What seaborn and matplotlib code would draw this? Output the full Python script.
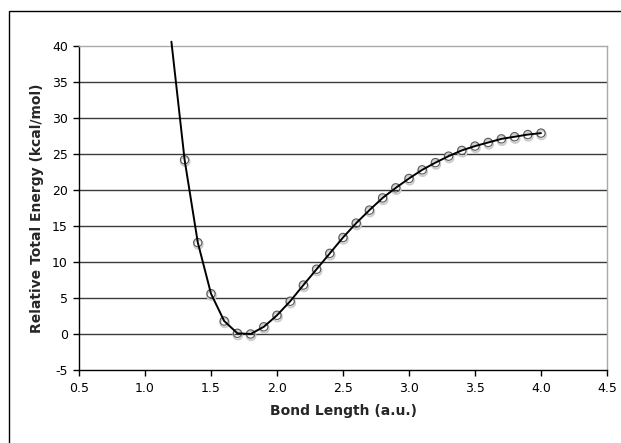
import numpy as np
import pandas as pd
import matplotlib
matplotlib.use("Agg")
import matplotlib.pyplot as plt
import seaborn as sns
from matplotlib.patches import Rectangle

# ── Data ────────────────────────────────────────────────────────
bond_length = [1.2, 1.3, 1.4, 1.5, 1.6, 1.7, 1.8, 1.9, 2.0, 2.1, 2.2, 2.3, 2.4, 2.5,
               2.6, 2.7, 2.8, 2.9, 3.0, 3.1, 3.2, 3.3, 3.4, 3.5, 3.6, 3.7, 3.8, 3.9, 4.0]
energy = [40.6, 24.2, 12.7, 5.6, 1.8, 0.1, 0.0, 1.0, 2.6, 4.55, 6.8, 9.0, 11.2, 13.4,
          15.4, 17.2, 18.9, 20.3, 21.6, 22.8, 23.8, 24.7, 25.5, 26.1, 26.6, 27.1, 27.4, 27.7, 27.9]
x_ticks = [0.5, 1.0, 1.5, 2.0, 2.5, 3.0, 3.5, 4.0, 4.5]
y_ticks = [-5, 0, 5, 10, 15, 20, 25, 30, 35, 40]

df = pd.DataFrame({"bond": bond_length, "energy": energy})
shown = df[df["bond"] >= 1.3]

sns.set_theme(style="white")
plt.rcParams["font.family"] = ["DejaVu Sans"]

fig = plt.figure(figsize=(6.21, 4.43), dpi=100)
ax = fig.add_axes([79 / 621, 1 - 370 / 443, (607 - 79) / 621, (370 - 46) / 443])

# horizontal gridlines
for yv in y_ticks[1:-1]:
    ax.axhline(yv, color="#3a3a3a", linewidth=1.0, zorder=1)

# marker shadows + open circles
sns.scatterplot(x=shown["bond"] + 0.004, y=shown["energy"] - 0.25, s=40,
                facecolor="none", edgecolor="#cccccc", linewidth=1.4, ax=ax, zorder=2)
sns.scatterplot(data=shown, x="bond", y="energy", s=36, facecolor="none",
                edgecolor="#555555", linewidth=0.8, ax=ax, zorder=3)
sns.lineplot(data=df, x="bond", y="energy", color="black", linewidth=1.4,
             ax=ax, zorder=4, clip_on=False)

ax.set_xlim(0.5, 4.5)
ax.set_ylim(-5, 40)
ax.set_xticks(x_ticks)
ax.set_xticklabels([f"{t:.1f}" for t in x_ticks])
ax.set_yticks(y_ticks)
ax.set_yticklabels([str(t) for t in y_ticks])
ax.tick_params(axis="both", direction="out", length=4, width=1, colors="black",
               labelsize=9, bottom=True, left=True)
ax.tick_params(axis="x", pad=5)
ax.tick_params(axis="y", pad=4)

for side in ["left", "bottom"]:
    ax.spines[side].set_color("black")
    ax.spines[side].set_linewidth(1.0)
for side in ["top", "right"]:
    ax.spines[side].set_color("#aaaaaa")
    ax.spines[side].set_linewidth(1.0)

ax.set_xlabel("Bond Length (a.u.)", fontsize=10, fontweight="bold", labelpad=6)
ax.set_ylabel("Relative Total Energy (kcal/mol)", fontsize=10, fontweight="bold", labelpad=6)

# chart-area border (cropped at right and bottom)
fig.patches.append(Rectangle((9 / 621, -0.1), 1.2, 1 - 11 / 443 + 0.1,
                             transform=fig.transFigure, fill=False,
                             edgecolor="black", linewidth=1.0))

fig.savefig("out.png", dpi=100)
